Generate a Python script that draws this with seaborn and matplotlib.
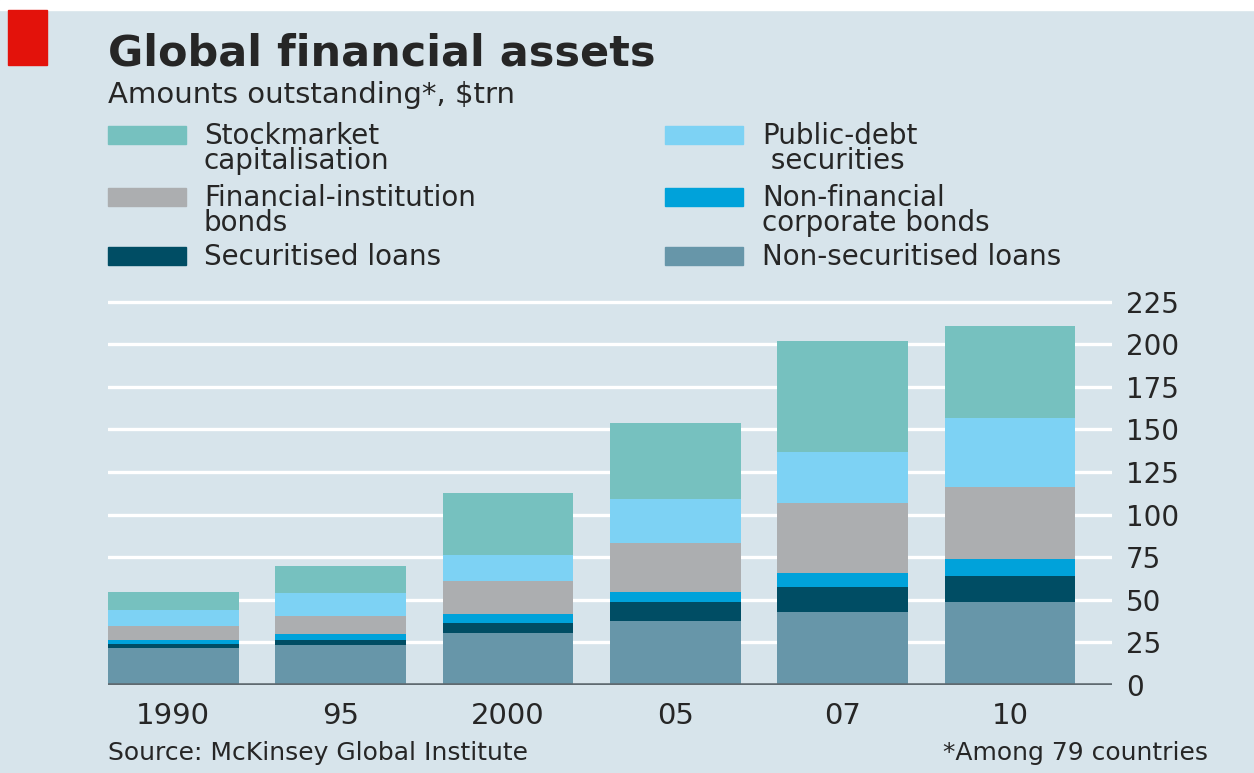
import numpy as np
import seaborn as sns
import matplotlib.pyplot as plt
from matplotlib.patches import Rectangle

# data, $trn
years = ["1990", "95", "2000", "05", "07", "10"]
nonsec_loans = [22.0, 23.3, 30.3, 37.6, 43.0, 48.9]
secur_loans = [2.0, 3.0, 5.9, 10.9, 14.7, 15.1]
nonfin_bonds = [2.4, 3.5, 5.5, 6.3, 8.2, 9.8]
fin_bonds = [8.2, 10.5, 19.1, 28.7, 40.7, 42.2]
public_debt = [9.4, 13.7, 15.7, 25.5, 30.3, 40.9]
stockmarket = [10.8, 16.0, 36.4, 44.6, 65.0, 53.8]

series = [nonsec_loans, secur_loans, nonfin_bonds, fin_bonds, public_debt, stockmarket]
colors = ["#6796a9", "#004d64", "#00a2da", "#acaeb0", "#7dd2f4", "#76c1bf"]
labels = ["Non-securitised loans", "Securitised loans", "Non-financial\ncorporate bonds",
          "Financial-institution\nbonds", "Public-debt\n securities", "Stockmarket\ncapitalisation"]

yticks = list(range(0, 226, 25))

bg = "#d7e4eb"
txt = "#262626"
W, H = 1254, 773

sns.set_style("white")
plt.rcParams["font.family"] = ["DejaVu Sans"]

fig = plt.figure(figsize=(W / 100, H / 100), dpi=100, facecolor=bg)
ax = fig.add_axes([108 / W, 88 / H, 1004 / W, 385.1 / H])
ax.set_facecolor(bg)

# stacked bars: draw cumulative totals, tallest first
stacked = np.cumsum(np.array(series), axis=0)
for i in range(len(series) - 1, -1, -1):
    sns.barplot(x=years, y=stacked[i], order=years, color=colors[i], saturation=1,
                width=0.78, errorbar=None, ax=ax, zorder=2, linewidth=0)

ax.set_xlim(-0.39, 5.61)
ax.set_ylim(0, 226)
ax.set_yticks(yticks)
ax.yaxis.tick_right()
ax.grid(axis="y", color="white", lw=2.4)
ax.set_axisbelow(True)
ax.axhline(0, color="#5f6a70", lw=2.6, zorder=3)
for s in ax.spines.values():
    s.set_visible(False)
ax.set_xlabel("")
ax.set_ylabel("")
ax.tick_params(axis="y", length=0, pad=10, labelsize=20, labelcolor=txt)
ax.tick_params(axis="x", length=0, pad=12, labelsize=21, labelcolor=txt)

# header
fig.add_artist(Rectangle((0, 1 - 10 / H), 1, 10 / H, transform=fig.transFigure,
                         color="white", zorder=5))
fig.add_artist(Rectangle((8 / W, 1 - 65 / H), 39 / W, 55 / H, transform=fig.transFigure,
                         color="#e3120b", zorder=6))
fig.text(108 / W, 1 - 65 / H, "Global financial assets", fontsize=31, fontweight="bold",
         color=txt, va="baseline")
fig.text(108 / W, 1 - 103 / H, "Amounts outstanding*, $trn", fontsize=21,
         color=txt, va="baseline")

# legend, two columns
leg_order = [5, 3, 1, 4, 2, 0]
leg_pos = [(108, 204, 126), (108, 204, 188), (108, 204, 247),
           (665, 762, 126), (665, 762, 188), (665, 762, 247)]
for k, (px, tx, ty) in zip(leg_order, leg_pos):
    fig.add_artist(Rectangle((px / W, 1 - (ty + 18) / H), 78 / W, 18 / H,
                             transform=fig.transFigure, color=colors[k]))
    fig.text(tx / W, 1 - (ty - 4) / H, labels[k], fontsize=20, color=txt,
             va="top", linespacing=0.85)

# footer
fig.text(108 / W, 1 - 760 / H, "Source: McKinsey Global Institute", fontsize=18,
         color=txt, va="baseline")
fig.text(1208 / W, 1 - 760 / H, "*Among 79 countries", fontsize=18,
         color=txt, va="baseline", ha="right")

fig.savefig("out.png", dpi=100, facecolor=bg)
